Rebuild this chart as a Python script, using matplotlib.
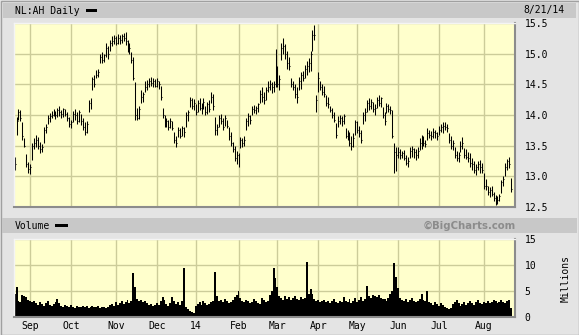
import pandas as pd
import matplotlib
matplotlib.use('Agg')
import matplotlib.pyplot as plt
from matplotlib.patches import Rectangle

# trading days, NL:AH daily, 8/21/13 - 8/21/14
holidays = ['2013-12-25', '2013-12-26', '2014-01-01', '2014-04-18', '2014-04-21', '2014-05-01']
dates = pd.bdate_range('2013-08-21', '2014-08-21')
dates = dates[~dates.isin(pd.to_datetime(holidays))]

high = [13.32, 13.97, 14.10, 14.08, 13.88, 13.62, 13.36, 13.24, 13.20, 13.54,
        13.62, 13.68, 13.64, 13.56, 13.52, 13.80, 13.86, 14.00, 14.03, 14.06,
        14.10, 14.06, 14.12, 14.14, 14.08, 14.12, 14.10, 14.05, 13.96, 13.92,
        14.06, 14.10, 14.05, 14.08, 14.02, 13.95, 13.88, 13.90, 14.25, 14.28,
        14.62, 14.65, 14.73, 14.75, 15.00, 15.02, 15.00, 15.18, 15.12, 15.22,
        15.28, 15.30, 15.28, 15.32, 15.30, 15.32, 15.34, 15.36, 15.22, 15.18,
        15.02, 14.95, 14.54, 14.12, 14.15, 14.40, 14.38, 14.55, 14.57, 14.60,
        14.62, 14.60, 14.58, 14.60, 14.56, 14.47, 14.12, 14.00, 13.95, 13.92,
        13.95, 13.90, 13.72, 13.65, 13.80, 13.78, 13.82, 13.80, 14.05, 14.08,
        14.30, 14.28, 14.26, 14.18, 14.25, 14.28, 14.20, 14.28, 14.15, 14.22,
        14.25, 14.38, 14.35, 13.97, 13.85, 14.00, 14.02, 13.95, 14.00, 13.92,
        13.80, 13.72, 13.56, 13.50, 13.42, 13.38, 13.64, 13.62, 13.65, 13.95,
        14.03, 14.00, 14.15, 14.17, 14.15, 14.20, 14.40, 14.46, 14.38, 14.45,
        14.55, 14.57, 14.54, 14.56, 15.08, 14.80, 14.65, 15.17, 15.25, 15.15,
        15.05, 14.95, 14.60, 14.55, 14.50, 14.45, 14.62, 14.70, 14.72, 14.82,
        14.88, 14.93, 15.05, 15.38, 15.47, 14.32, 14.70, 14.55, 14.50, 14.48,
        14.32, 14.30, 14.15, 14.12, 14.05, 13.87, 13.98, 14.00, 13.98, 14.02,
        13.78, 13.75, 13.72, 13.65, 13.70, 13.92, 13.90, 13.82, 13.75, 14.05,
        14.12, 14.25, 14.28, 14.26, 14.22, 14.18, 14.30, 14.32, 14.30, 14.13,
        14.05, 14.20, 14.18, 14.15, 14.08, 13.54, 13.48, 13.48, 13.45, 13.42,
        13.43, 13.35, 13.32, 13.48, 13.50, 13.46, 13.45, 13.48, 13.62, 13.67,
        13.65, 13.60, 13.78, 13.76, 13.74, 13.78, 13.75, 13.72, 13.82, 13.86,
        13.88, 13.88, 13.86, 13.70, 13.65, 13.60, 13.48, 13.42, 13.40, 13.58,
        13.64, 13.46, 13.44, 13.40, 13.38, 13.30, 13.25, 13.20, 13.25, 13.27,
        13.22, 13.05, 12.95, 12.85, 12.82, 12.84, 12.75, 12.70, 12.68, 12.72,
        12.94, 13.00, 13.22, 13.28, 13.32, 12.97]
low = [13.10, 13.68, 13.92, 13.90, 13.60, 13.48, 13.15, 13.05, 13.04, 13.27,
       13.45, 13.48, 13.44, 13.38, 13.40, 13.55, 13.70, 13.85, 13.88, 13.95,
       13.98, 13.94, 13.96, 13.98, 13.95, 13.97, 13.98, 13.90, 13.80, 13.78,
       13.88, 13.92, 13.85, 13.88, 13.84, 13.75, 13.68, 13.70, 14.05, 14.10,
       14.40, 14.45, 14.60, 14.62, 14.84, 14.85, 14.86, 14.95, 14.92, 15.05,
       15.12, 15.15, 15.14, 15.16, 15.15, 15.18, 15.20, 15.14, 15.02, 15.00,
       14.85, 14.57, 13.92, 13.92, 13.93, 14.20, 14.22, 14.38, 14.40, 14.45,
       14.48, 14.46, 14.45, 14.46, 14.42, 14.25, 13.95, 13.80, 13.80, 13.75,
       13.78, 13.75, 13.55, 13.48, 13.64, 13.62, 13.65, 13.64, 13.80, 13.90,
       14.13, 14.10, 14.08, 14.00, 14.05, 14.08, 14.02, 14.10, 14.00, 14.02,
       14.05, 14.20, 14.08, 13.68, 13.67, 13.80, 13.85, 13.75, 13.82, 13.78,
       13.60, 13.50, 13.40, 13.25, 13.20, 13.15, 13.46, 13.48, 13.50, 13.75,
       13.82, 13.85, 14.00, 14.03, 14.02, 14.05, 14.20, 14.22, 14.18, 14.25,
       14.38, 14.40, 14.36, 14.38, 14.45, 14.46, 14.40, 14.90, 15.00, 14.92,
       14.75, 14.73, 14.45, 14.40, 14.28, 14.20, 14.40, 14.42, 14.55, 14.60,
       14.65, 14.70, 14.72, 15.05, 15.22, 14.05, 14.38, 14.40, 14.32, 14.30,
       14.15, 14.12, 14.05, 13.95, 13.88, 13.62, 13.80, 13.85, 13.82, 13.85,
       13.62, 13.60, 13.50, 13.43, 13.48, 13.68, 13.70, 13.64, 13.54, 13.85,
       13.90, 14.05, 14.08, 14.10, 14.05, 14.00, 14.12, 14.15, 14.13, 13.95,
       13.84, 14.03, 14.05, 14.02, 13.62, 13.05, 13.08, 13.30, 13.28, 13.30,
       13.27, 13.18, 13.15, 13.30, 13.32, 13.30, 13.27, 13.30, 13.43, 13.45,
       13.50, 13.48, 13.60, 13.62, 13.60, 13.62, 13.63, 13.60, 13.68, 13.72,
       13.70, 13.75, 13.72, 13.55, 13.45, 13.43, 13.30, 13.25, 13.23, 13.40,
       13.45, 13.30, 13.28, 13.23, 13.15, 13.10, 13.05, 13.02, 13.10, 13.05,
       13.06, 12.80, 12.78, 12.70, 12.66, 12.68, 12.60, 12.53, 12.55, 12.60,
       12.73, 12.85, 13.00, 13.10, 13.13, 12.75]
close = [13.20, 13.90, 14.05, 13.95, 13.65, 13.50, 13.20, 13.12, 13.15, 13.50,
         13.55, 13.60, 13.50, 13.45, 13.48, 13.75, 13.80, 13.95, 13.98, 14.00,
         14.05, 14.00, 14.08, 14.05, 14.02, 14.10, 14.02, 13.95, 13.85, 13.88,
         14.02, 14.00, 13.90, 14.05, 13.90, 13.80, 13.72, 13.85, 14.20, 14.15,
         14.58, 14.50, 14.65, 14.70, 14.95, 14.90, 14.98, 15.10, 15.00, 15.18,
         15.20, 15.25, 15.18, 15.26, 15.22, 15.28, 15.25, 15.20, 15.05, 15.10,
         14.90, 14.60, 14.00, 13.95, 14.10, 14.30, 14.35, 14.45, 14.50, 14.55,
         14.52, 14.55, 14.48, 14.55, 14.50, 14.30, 14.00, 13.85, 13.90, 13.80,
         13.90, 13.78, 13.60, 13.55, 13.75, 13.65, 13.78, 13.72, 14.00, 14.05,
         14.25, 14.15, 14.20, 14.05, 14.20, 14.12, 14.15, 14.22, 14.05, 14.18,
         14.10, 14.30, 14.15, 13.75, 13.80, 13.95, 13.90, 13.80, 13.95, 13.82,
         13.65, 13.55, 13.45, 13.30, 13.35, 13.22, 13.60, 13.55, 13.60, 13.90,
         13.98, 13.92, 14.10, 14.08, 14.12, 14.18, 14.35, 14.30, 14.25, 14.40,
         14.45, 14.50, 14.45, 14.50, 14.95, 14.50, 14.58, 15.10, 15.12, 15.00,
         14.85, 14.80, 14.50, 14.45, 14.35, 14.30, 14.55, 14.65, 14.60, 14.75,
         14.80, 14.85, 15.00, 15.30, 15.30, 14.25, 14.60, 14.45, 14.38, 14.35,
         14.20, 14.18, 14.08, 14.00, 13.92, 13.68, 13.90, 13.95, 13.90, 13.98,
         13.65, 13.70, 13.55, 13.50, 13.62, 13.88, 13.75, 13.70, 13.60, 14.00,
         14.05, 14.20, 14.15, 14.22, 14.10, 14.12, 14.25, 14.20, 14.28, 14.00,
         13.90, 14.15, 14.10, 14.08, 13.65, 13.40, 13.35, 13.40, 13.35, 13.38,
         13.30, 13.22, 13.25, 13.42, 13.45, 13.40, 13.35, 13.42, 13.55, 13.60,
         13.55, 13.52, 13.70, 13.68, 13.65, 13.72, 13.70, 13.65, 13.75, 13.80,
         13.82, 13.80, 13.78, 13.60, 13.50, 13.55, 13.35, 13.30, 13.35, 13.50,
         13.55, 13.35, 13.32, 13.30, 13.22, 13.20, 13.10, 13.15, 13.20, 13.15,
         13.10, 12.85, 12.85, 12.75, 12.78, 12.72, 12.65, 12.60, 12.62, 12.68,
         12.90, 12.95, 13.15, 13.25, 13.20, 12.80]
volume = [4.5, 5.8, 3.0, 2.8, 4.2, 4.0, 3.8, 3.2, 3.0, 2.8,
          3.0, 2.6, 2.4, 2.8, 2.5, 2.2, 2.6, 3.0, 2.4, 2.2,
          2.5, 2.8, 3.5, 2.6, 2.2, 2.0, 2.4, 2.2, 2.0, 2.3,
          2.0, 1.8, 2.2, 2.0, 1.9, 2.1, 2.0, 2.2, 1.8, 2.0,
          2.1, 1.9, 2.0, 2.2, 1.8, 2.0, 1.9, 1.7, 2.0, 2.3,
          2.5, 2.2, 2.8, 2.4, 2.6, 3.0, 2.5, 2.8, 3.2, 2.6,
          3.0, 8.5, 5.8, 3.4, 3.0, 3.2, 2.8, 3.0, 2.6, 2.4,
          2.5, 2.2, 2.4, 2.6, 2.3, 3.0, 3.8, 3.2, 2.5, 2.2,
          2.6, 3.8, 3.0, 2.5, 2.8, 2.4, 3.0, 9.4, 2.0, 1.5,
          1.2, 1.0, 0.8, 2.2, 2.5, 2.8, 2.4, 3.0, 2.6, 2.3,
          2.5, 2.8, 3.0, 8.6, 4.0, 3.0, 3.2, 2.8, 3.4, 3.0,
          2.6, 2.8, 3.2, 3.8, 4.2, 5.0, 3.6, 3.0, 2.8, 3.2,
          3.0, 2.6, 2.8, 3.4, 3.0, 2.7, 2.5, 3.6, 3.2, 2.8,
          3.0, 4.2, 5.0, 9.4, 7.5, 5.8, 4.0, 3.6, 3.3, 4.0,
          3.5, 3.8, 3.2, 3.6, 4.0, 3.4, 3.2, 3.8, 3.5, 3.6,
          10.6, 4.5, 5.4, 4.5, 3.5, 3.0, 3.2, 2.8, 3.0, 3.2,
          2.8, 3.0, 2.6, 3.0, 3.4, 2.8, 2.6, 3.0, 2.8, 3.8,
          3.0, 2.8, 3.4, 2.6, 3.0, 3.6, 2.8, 3.2, 3.8, 3.0,
          3.4, 6.0, 4.0, 3.6, 4.2, 4.0, 3.8, 4.2, 3.6, 3.4,
          3.5, 3.0, 3.6, 4.4, 5.0, 10.3, 7.7, 5.5, 3.6, 3.2,
          3.0, 3.4, 2.8, 3.2, 3.6, 3.0, 2.8, 3.0, 3.4, 4.5,
          3.2, 3.0, 5.0, 2.8, 2.6, 2.4, 2.8, 2.5, 2.2, 2.6,
          2.4, 2.0, 1.7, 1.6, 1.8, 2.5, 2.8, 3.2, 2.6, 2.2,
          2.5, 2.8, 2.4, 2.6, 3.0, 2.6, 2.4, 2.8, 3.2, 2.7,
          2.5, 2.8, 2.6, 3.0, 2.7, 2.8, 3.2, 3.0, 2.6, 2.9,
          3.3, 2.8, 2.6, 3.0, 3.3, 1.8]

price_ticks = [12.5, 13.0, 13.5, 14.0, 14.5, 15.0, 15.5]
vol_ticks = [0, 5, 10, 15]
month_names = ['Sep', 'Oct', 'Nov', 'Dec', '14', 'Feb', 'Mar', 'Apr', 'May', 'Jun', 'Jul', 'Aug']

x = list(range(len(dates)))
ym = dates.to_period('M')
month_pos = [i for i in x if i > 0 and ym[i] != ym[i - 1]]

W, H = 579, 335
bg = '#e4e4e4'
strip = '#c8c8c8'
plotbg = '#ffffcc'
gridc = '#cccc99'
mono = 'DejaVu Sans Mono'

fig = plt.figure(figsize=(W / 100, H / 100), dpi=100, facecolor=bg)


def px_rect(x0, y0, w, h, **kw):
    fig.patches.append(Rectangle((x0 / W, 1 - (y0 + h) / H), w / W, h / H,
                                 transform=fig.transFigure, **kw))


# outer frame and header strips
px_rect(0.5, 0.5, W - 1, H - 1, facecolor='none', edgecolor='#a0a0a0', lw=1)
px_rect(3, 3, W - 6, 15, facecolor=strip, edgecolor='none')
px_rect(2, 218, W - 4, 15, facecolor=strip, edgecolor='none')

fig.text(15 / W, 1 - 10.5 / H, 'NL:AH Daily', family=mono, size=7, va='center')
px_rect(86, 9, 11, 3, facecolor='black')
fig.text(523 / W, 1 - 10 / H, '8/21/14', family=mono, size=7, va='center')
fig.text(15 / W, 1 - 226 / H, 'Volume', family=mono, size=7, va='center')
px_rect(55, 224, 13, 3, facecolor='black')
fig.text(516 / W, 1 - 225.5 / H, '\u00a9BigCharts.com', size=7.3, weight='bold',
         color='#8c8c8c', ha='right', va='center')
fig.text(566 / W, 1 - 278 / H, 'Millions', family=mono, size=7, rotation=90,
         ha='center', va='center')

ax = fig.add_axes([14 / W, 1 - 207 / H, 501 / W, 184 / H])
av = fig.add_axes([14 / W, 1 - 317 / H, 501 / W, 78 / H])

for a in (ax, av):
    a.set_facecolor(plotbg)
    a.set_xlim(-0.3, 257)
    a.set_xticks(month_pos)
    a.grid(True, color=gridc, lw=1.0)
    a.set_axisbelow(True)
    a.yaxis.tick_right()
    a.tick_params(length=0, labelsize=7)
    for s in ('top', 'left'):
        a.spines[s].set_color('#f4f4f4')
        a.spines[s].set_linewidth(1)
    for s in ('right', 'bottom'):
        a.spines[s].set_color('#8c8c8c')
        a.spines[s].set_linewidth(1.5)

ax.vlines(x, low, high, color='black', lw=0.75)
ax.hlines(close, [i for i in x], [i + 0.5 for i in x], color='black', lw=0.75)
ax.set_ylim(12.5, 15.5)
ax.set_yticks(price_ticks)
ax.set_yticklabels(['%.1f' % v for v in price_ticks], family=mono, size=7)
ax.tick_params(axis='y', pad=7)
ax.set_xticklabels([])

av.bar(x, volume, width=1.0, color='black', linewidth=0)
av.set_ylim(0, 15)
av.set_yticks(vol_ticks)
av.set_yticklabels([str(v) for v in vol_ticks], family=mono, size=7)
av.tick_params(axis='y', pad=7)
av.set_xticklabels(month_names, family=mono, size=7)
av.tick_params(axis='x', pad=3)

fig.savefig('out.png', dpi=100, facecolor=bg)
